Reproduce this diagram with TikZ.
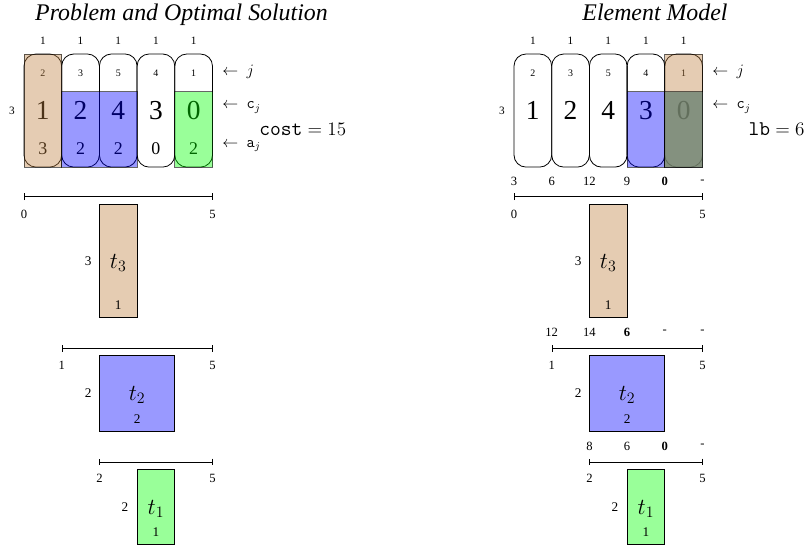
\documentclass[tikz,border=0pt]{standalone}
\usepackage{fontspec}
\setmainfont{Liberation Serif}
\usetikzlibrary{arrows.meta}
\begin{document}
\begin{tikzpicture}[x=1cm,y=-1cm, line width=0.6pt,
  colbox/.style={draw, rounded corners=0.32cm},
  hdrtxt/.style={font=\fontsize{8.5}{10}\selectfont, inner sep=0pt},
  jtxt/.style={font=\fontsize{7.5}{9}\selectfont, inner sep=0pt},
  ctxt/.style={font=\fontsize{20.7}{24}\selectfont, inner sep=0pt},
  atxt/.style={font=\fontsize{13.5}{16}\selectfont, inner sep=0pt},
  arrtxt/.style={font=\fontsize{12}{14}\selectfont, inner sep=0pt, anchor=base west},
  restxt/.style={font=\fontsize{14.4}{17}\selectfont, inner sep=0pt, anchor=base west},
  ttltxt/.style={font=\fontsize{18}{21}\selectfont\itshape, inner sep=0pt, anchor=base},
  bartxt/.style={font=\fontsize{9.5}{11}\selectfont, inner sep=0pt},
  boxtxt/.style={font=\fontsize{10}{12}\selectfont, inner sep=0pt},
  tasktxt/.style={font=\fontsize{17}{20}\selectfont, inner sep=0pt},
  barline/.style={{Bar[width=5pt]}-{Bar[width=5pt]}, line width=0.6pt},
  tbox/.style={draw, inner sep=0pt, minimum width=#1cm, minimum height=3cm},
  ovl/.style={draw opacity=0.6, fill opacity=0.4, draw=black}
]
\useasboundingbox (0,0) rectangle (21.459,14.536);

% titles
\node[ttltxt] (T1) at (4.814,0.549) {Problem and Optimal Solution};
\node[ttltxt] (T2) at (17.374,0.549) {Element Model};

% ================= LEFT PANEL =================
\begin{scope}[shift={(0.6366,1.4324)}]
  \foreach \i in {0,...,4} \node[hdrtxt] (Lh\i) at (\i+0.5,-0.345) {1};
  \foreach \i/\v in {0/2,1/3,2/5,3/4,4/1} \node[jtxt] (Lj\i) at (\i+0.5,0.5) {\v};
  \foreach \i/\v in {0/1,1/2,2/4,3/3,4/0} \node[ctxt] (Lc\i) at (\i+0.5,1.5) {\v};
  \foreach \i/\v in {0/3,1/2,2/2,3/0,4/2} \node[atxt] (La\i) at (\i+0.5,2.52) {\v};
  \foreach \i in {0,...,4} \draw[colbox] (\i,0) rectangle (\i+1,3);
  \filldraw[ovl, fill=brown] (0,0) rectangle (1,3);
  \filldraw[ovl, fill=blue] (1,1) rectangle (3,3);
  \filldraw[ovl, fill=green] (4,1) rectangle (5,3);
  \node[hdrtxt] (Lrow) at (-0.32,1.5) {3};
  \node[arrtxt] (Larj) at (5.25,0.58) {$\leftarrow\ j$};
  \node[arrtxt] (Larc) at (5.25,1.45) {$\leftarrow\ \mathtt{c}_j$};
  \node[arrtxt] (Lara) at (5.25,2.48) {$\leftarrow\ \mathtt{a}_j$};
  \node[restxt] (Lcost) at (6.23,2.15) {$\mbox{\fontsize{15.8}{18}\selectfont\ttfamily cost} = 15$};

  % t3
  \coordinate (Lb1a) at (0,3.785); \coordinate (Lb1b) at (5,3.785);
  \draw[barline] (Lb1a) -- (Lb1b);
  \node[bartxt] (Lb1l) at (0,4.26) {0}; \node[bartxt] (Lb1r) at (5,4.26) {5};
  \node[tbox=1, fill=brown!40] (Lt3) at (2.5,5.5) {};
  \node[boxtxt] (Lt3w) at (1.7,5.5) {3};
  \node[tasktxt] (Lt3n) at (2.5,5.55) {$t_3$};
  \node[boxtxt] (Lt3h) at (2.5,6.65) {1};

  % t2
  \coordinate (Lb2a) at (1,7.81); \coordinate (Lb2b) at (5,7.81);
  \draw[barline] (Lb2a) -- (Lb2b);
  \node[bartxt] (Lb2l) at (1,8.26) {1}; \node[bartxt] (Lb2r) at (5,8.26) {5};
  \node[tbox=2, minimum height=2cm, fill=blue!40] (Lt2) at (3,9) {};
  \node[boxtxt] (Lt2w) at (1.7,9) {2};
  \node[tasktxt] (Lt2n) at (3,9.05) {$t_2$};
  \node[boxtxt] (Lt2h) at (3,9.68) {2};

  % t1
  \coordinate (Lb3a) at (2,10.82); \coordinate (Lb3b) at (5,10.82);
  \draw[barline] (Lb3a) -- (Lb3b);
  \node[bartxt] (Lb3l) at (2,11.26) {2}; \node[bartxt] (Lb3r) at (5,11.26) {5};
  \node[tbox=1, minimum height=2cm, fill=green!40] (Lt1) at (3.5,12.02) {};
  \node[boxtxt] (Lt1w) at (2.68,12.03) {2};
  \node[tasktxt] (Lt1n) at (3.5,12.07) {$t_1$};
  \node[boxtxt] (Lt1h) at (3.5,12.67) {1};
\end{scope}

% ================= RIGHT PANEL =================
\begin{scope}[shift={(13.634,1.4324)}]
  \foreach \i in {0,...,4} \node[hdrtxt] (Rh\i) at (\i+0.5,-0.345) {1};
  \foreach \i/\v in {0/2,1/3,2/5,3/4,4/1} \node[jtxt] (Rj\i) at (\i+0.5,0.5) {\v};
  \foreach \i/\v in {0/1,1/2,2/4,3/3,4/0} \node[ctxt] (Rc\i) at (\i+0.5,1.5) {\v};
  \foreach \i in {0,...,4} \draw[colbox] (\i,0) rectangle (\i+1,3);
  \filldraw[ovl, fill=blue] (3,1) rectangle (4,3);
  \filldraw[ovl, fill=brown] (4,0) rectangle (5,3);
  \filldraw[draw=black, draw opacity=0.6, fill={rgb,255:red,105;green,128;blue,112}, fill opacity=0.78] (4,1) rectangle (5,3);
  \node[hdrtxt] (Rrow) at (-0.32,1.5) {3};
  \node[arrtxt] (Rarj) at (5.25,0.58) {$\leftarrow\ j$};
  \node[arrtxt] (Rarc) at (5.25,1.45) {$\leftarrow\ \mathtt{c}_j$};
  \node[restxt] (Rlb) at (6.21,2.15) {$\mbox{\fontsize{15.8}{18}\selectfont\ttfamily lb} = 6$};

  % t3
  \foreach \i/\v in {0/3,1/6,2/12,3/9,4/\textbf{0},5/-} \node[bartxt] (Ru1\i) at (\i,3.39) {\v};
  \coordinate (Rb1a) at (0,3.785); \coordinate (Rb1b) at (5,3.785);
  \draw[barline] (Rb1a) -- (Rb1b);
  \node[bartxt] (Rb1l) at (0,4.26) {0}; \node[bartxt] (Rb1r) at (5,4.26) {5};
  \node[tbox=1, fill=brown!40] (Rt3) at (2.5,5.5) {};
  \node[boxtxt] (Rt3w) at (1.7,5.5) {3};
  \node[tasktxt] (Rt3n) at (2.5,5.55) {$t_3$};
  \node[boxtxt] (Rt3h) at (2.5,6.65) {1};

  % t2
  \foreach \i/\v in {1/12,2/14,3/\textbf{6},4/-,5/-} \node[bartxt] (Ru2\i) at (\i,7.38) {\v};
  \coordinate (Rb2a) at (1,7.81); \coordinate (Rb2b) at (5,7.81);
  \draw[barline] (Rb2a) -- (Rb2b);
  \node[bartxt] (Rb2l) at (1,8.26) {1}; \node[bartxt] (Rb2r) at (5,8.26) {5};
  \node[tbox=2, minimum height=2cm, fill=blue!40] (Rt2) at (3,9) {};
  \node[boxtxt] (Rt2w) at (1.7,9) {2};
  \node[tasktxt] (Rt2n) at (3,9.05) {$t_2$};
  \node[boxtxt] (Rt2h) at (3,9.68) {2};

  % t1
  \foreach \i/\v in {2/8,3/6,4/\textbf{0},5/-} \node[bartxt] (Ru3\i) at (\i,10.40) {\v};
  \coordinate (Rb3a) at (2,10.82); \coordinate (Rb3b) at (5,10.82);
  \draw[barline] (Rb3a) -- (Rb3b);
  \node[bartxt] (Rb3l) at (2,11.26) {2}; \node[bartxt] (Rb3r) at (5,11.26) {5};
  \node[tbox=1, minimum height=2cm, fill=green!40] (Rt1) at (3.5,12.02) {};
  \node[boxtxt] (Rt1w) at (2.68,12.03) {2};
  \node[tasktxt] (Rt1n) at (3.5,12.07) {$t_1$};
  \node[boxtxt] (Rt1h) at (3.5,12.67) {1};
\end{scope}
\end{tikzpicture}
\end{document}
